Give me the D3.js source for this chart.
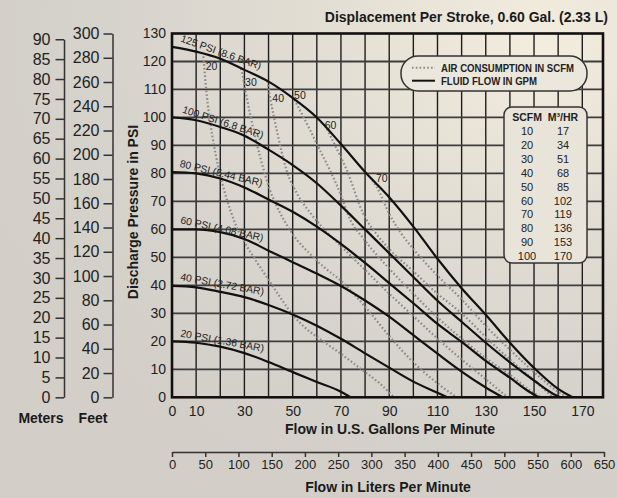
<!DOCTYPE html>
<html>
<head>
<meta charset="utf-8">
<script src="https://cdn.jsdelivr.net/npm/d3@7"></script>
<style>
    body { margin: 0; background: #d8d4cc; }
    svg { display: block; font-family: 'Liberation Sans Narrow', 'Arial Narrow', 'Liberation Sans', Arial, sans-serif; }
</style>
</head>
<body>
<div id="chart"></div>
<script>
// ---- data ----
const gpmTicks = [0, 10, 30, 50, 70, 90, 110, 130, 150, 170];
const psiTicks = d3.range(0, 131, 10);
const lpmTicks = d3.range(0, 651, 50);
const feetTicks = d3.range(0, 301, 20);
const meterTicks = d3.range(0, 91, 5);

// fluid flow curves, [gpm, psi]
const fluidNames = ['125 PSI (8.6 BAR)', '100 PSI (6.8 BAR)', '80 PSI (5.44 BAR)', '60 PSI (4.08 BAR)', '40 PSI (2.72 BAR)', '20 PSI (1.36 BAR)'];
const fluid125 = [[0,125.2],[10,123.5],[20,121],[30,117],[40,112.8],[50,107],[60,100],[70,90.5],[80,80.5],[90,71.5],[100,61],[110,49.5],[120,39],[130,29.5],[140,19.5],[150,10.5],[160,3],[166,0]];
const fluid100 = [[0,100],[10,99],[20,96.6],[30,93.5],[40,88.5],[50,83],[60,76.5],[70,68.5],[80,60],[90,51.5],[100,43],[110,34.5],[120,27],[130,19.5],[140,12.5],[150,6],[158,1.2],[161,0]];
const fluid80 = [[0,80.5],[10,80],[20,78.2],[30,75],[40,70.7],[50,66.3],[60,61],[70,54.8],[80,48],[90,40.8],[100,33.6],[110,26.2],[120,19.8],[130,13],[140,7],[148,2],[152,0]];
const fluid60 = [[0,60],[10,60],[20,59],[30,56.6],[40,52.4],[50,48.3],[60,44.2],[70,39.8],[80,34.6],[90,28.8],[100,22.2],[110,15.6],[120,9.2],[130,3.5],[137,0]];
const fluid40 = [[0,39.8],[10,39.3],[20,37.7],[30,35.8],[40,33],[50,29.6],[60,25.6],[70,20.9],[80,15.7],[90,10.6],[100,5.6],[110,1.6],[114,0]];
const fluid20 = [[0,20],[10,19.5],[20,18.1],[30,15.8],[40,12.6],[50,9],[60,5.5],[70,2],[74,0]];
const fluidCurves = [fluid125, fluid100, fluid80, fluid60, fluid40, fluid20];

// air consumption curves, [gpm, psi]
const airNames = ['20', '30', '40', '50', '60', '70'];
const air20 = [[13,121.8],[14.4,108],[17,92],[21,76],[24.5,66],[28,58.5],[31,54],[35,48.5],[40,42],[45,35.5],[50,29.5],[55,25],[61,21],[70,15.5],[80,9],[86,5],[92,0]];
const air30 = [[28.7,117.5],[32.3,101.4],[36.5,86],[40.6,74],[44.7,66],[48,61],[52,56],[57,51.4],[63,46.5],[69.6,41.9],[80,32.4],[90.3,21.6],[100,12.5],[110,5],[118,0]];
const air40 = [[39.5,113],[40.6,107.4],[43.4,95.5],[47.5,81],[52,72.5],[57.2,66],[62,61],[70,54],[80,45.5],[90,37],[100,29],[110,21],[120,13.5],[130,6.5],[139,0]];
const air50 = [[50,107.5],[57.2,95.5],[61.3,88.3],[65.4,81.2],[70.3,71.6],[73,65.1],[80,56],[90,46],[100,37],[110,28.5],[120,21],[130,14],[140,8],[150,1.5],[153,0]];
const air60 = [[63.5,97],[67,91],[72.4,81.2],[79.2,65.7],[85,58],[90,53],[100,45],[110,37],[120,30],[130,21.5],[140,13.5],[150,6],[158,0]];
const air70 = [[83,77.5],[84.8,75.2],[90.3,65.1],[95,58.5],[100,53],[110,43.5],[120,35],[130,25.5],[140,17],[150,9],[160,2],[164,0]];
const airCurves = [air20, air30, air40, air50, air60, air70];

// conversion table
const scfmValues = [10, 20, 30, 40, 50, 60, 70, 80, 90, 100];
const m3hrValues = [17, 34, 51, 68, 85, 102, 119, 136, 153, 170];

// ---- layout ----
const W = 617, H = 498;
const plot = { left: 172, right: 603, top: 33.5, bottom: 397.3 };
const fluidLabelPos = [[3.3, 127.2, 19.5], [4, 101.8, 18], [3, 82.4, 13.5], [3.3, 62.2, 12.3], [3.3, 41.9, 10.3], [3.3, 21.7, 10.4]];
const airLabelPos = [[16.4, 118.1], [32.7, 112.7], [44, 106.8], [53, 108], [65.7, 97.3], [86.9, 78.2]];

const x = d3.scaleLinear().domain([0, 170]).range([plot.left, 582.3]);
const y = d3.scaleLinear().domain([0, 130]).range([plot.bottom, plot.top]);
const xL = d3.scaleLinear().domain([0, 650]).range([172, 604]);
const yFeet = d3.scaleLinear().domain([0, 300]).range([plot.bottom, plot.top]);
const yMeter = d3.scaleLinear().domain([0, 90]).range([plot.bottom, yFeet(90 * 3.2808)]);

const svg = d3.select('#chart').append('svg')
    .attr('width', W)
    .attr('height', H);

const defs = svg.append('defs');
const bg = defs.append('radialGradient')
    .attr('id', 'bg')
    .attr('cx', '88%').attr('cy', '8%').attr('r', '95%');
bg.append('stop').attr('offset', '0%').attr('stop-color', '#f3eddf');
bg.append('stop').attr('offset', '35%').attr('stop-color', '#e4dfd4');
bg.append('stop').attr('offset', '75%').attr('stop-color', '#d6d2cc');
bg.append('stop').attr('offset', '100%').attr('stop-color', '#d3cfc8');

svg.append('rect').attr('width', W).attr('height', H).attr('fill', 'url(#bg)');

// grid
const grid = svg.append('g');
grid.selectAll('line.v')
    .data(d3.range(10, 180, 10))
    .enter().append('line')
    .attr('class', 'v')
    .attr('x1', d => x(d)).attr('x2', d => x(d))
    .attr('y1', plot.top).attr('y2', plot.bottom)
    .attr('stroke', '#1e1e1e')
    .attr('stroke-width', 1.4);

grid.selectAll('line.h')
    .data(d3.range(10, 130, 10))
    .enter().append('line')
    .attr('class', 'h')
    .attr('x1', plot.left).attr('x2', plot.right)
    .attr('y1', d => y(d)).attr('y2', d => y(d))
    .attr('stroke', '#3c3c3c')
    .attr('stroke-width', 1.8);

// curves
const line = d3.line()
    .x(d => x(d[0]))
    .y(d => y(d[1]))
    .curve(d3.curveMonotoneX);

svg.append('g').selectAll('path')
    .data(airCurves)
    .enter().append('path')
    .attr('d', line)
    .attr('fill', 'none')
    .attr('stroke', '#8a8a8a')
    .attr('stroke-width', 2.2)
    .attr('stroke-dasharray', '1.6 2.2');

svg.append('g').selectAll('path')
    .data(fluidCurves)
    .enter().append('path')
    .attr('d', line)
    .attr('fill', 'none')
    .attr('stroke', '#111')
    .attr('stroke-width', 2.2);

// frame
svg.append('rect')
    .attr('x', plot.left).attr('y', plot.top)
    .attr('width', plot.right - plot.left)
    .attr('height', plot.bottom - plot.top)
    .attr('fill', 'none')
    .attr('stroke', '#111')
    .attr('stroke-width', 2.6);

// curve labels
svg.append('g').selectAll('text')
    .data(fluidNames)
    .enter().append('text')
    .attr('transform', (d, i) => `translate(${x(fluidLabelPos[i][0])},${y(fluidLabelPos[i][1])}) rotate(${fluidLabelPos[i][2]})`)
    .attr('font-size', 10.3)
    .attr('fill', '#222')
    .text(d => d);

svg.append('g').selectAll('text')
    .data(airNames)
    .enter().append('text')
    .attr('x', (d, i) => x(airLabelPos[i][0]))
    .attr('y', (d, i) => y(airLabelPos[i][1]))
    .attr('text-anchor', 'middle')
    .attr('dy', '0.35em')
    .attr('font-size', 10.5)
    .attr('fill', '#222')
    .text(d => d);

// axes
function styleAxis(g, size) {
    g.selectAll('text').attr('font-size', size).attr('fill', '#222').style('font-family', 'inherit');
    g.selectAll('line').attr('stroke', '#333').attr('stroke-width', 1.5);
    g.select('.domain').attr('stroke', '#333').attr('stroke-width', 1.5);
}

svg.append('g')
    .attr('transform', `translate(${plot.left},0)`)
    .call(d3.axisLeft(y).tickValues(psiTicks).tickSize(0).tickPadding(6))
    .call(g => g.select('.domain').remove())
    .call(g => styleAxis(g, 14));

svg.append('g')
    .attr('transform', `translate(0,${plot.bottom})`)
    .call(d3.axisBottom(x).tickValues(gpmTicks).tickSize(0).tickPadding(9))
    .call(g => g.select('.domain').remove())
    .call(g => styleAxis(g, 14));

svg.append('g')
    .attr('transform', 'translate(0,452)')
    .call(d3.axisBottom(xL).tickValues(lpmTicks).tickSize(5).tickSizeOuter(0).tickPadding(3))
    .call(g => styleAxis(g, 13));

svg.append('g')
    .attr('transform', 'translate(112.5,0)')
    .call(d3.axisLeft(yFeet).tickValues(feetTicks).tickSize(9).tickSizeOuter(0).tickPadding(4))
    .call(g => styleAxis(g, 16));

svg.append('g')
    .attr('transform', 'translate(64,0)')
    .call(d3.axisLeft(yMeter).tickValues(meterTicks).tickSize(8.5).tickSizeOuter(0).tickPadding(5))
    .call(g => styleAxis(g, 16));

// titles
const titles = svg.append('g')
    .attr('font-weight', 'bold')
    .attr('font-size', 14)
    .attr('fill', '#1a1a1a');

titles.append('text').attr('x', 608).attr('y', 22).attr('text-anchor', 'end')
    .text('Displacement Per Stroke, 0.60 Gal. (2.33 L)');
titles.append('text').attr('x', 390).attr('y', 433.5).attr('text-anchor', 'middle')
    .text('Flow in U.S. Gallons Per Minute');
titles.append('text').attr('x', 388).attr('y', 491.5).attr('text-anchor', 'middle')
    .text('Flow in Liters Per Minute');
titles.append('text').attr('x', 41).attr('y', 423).attr('text-anchor', 'middle').text('Meters');
titles.append('text').attr('x', 93).attr('y', 423).attr('text-anchor', 'middle').text('Feet');
titles.append('text')
    .attr('transform', 'translate(138,212) rotate(-90)')
    .attr('text-anchor', 'middle')
    .text('Discharge Pressure in PSI');

// legend
const legend = svg.append('g');
legend.append('rect')
    .attr('x', 401).attr('y', 56).attr('width', 186).attr('height', 35).attr('rx', 17)
    .attr('fill', '#ece7dc').attr('stroke', '#333').attr('stroke-width', 1.5);
legend.append('line').attr('x1', 412).attr('x2', 435).attr('y1', 67.7).attr('y2', 67.7)
    .attr('stroke', '#8a8a8a').attr('stroke-width', 2).attr('stroke-dasharray', '1.6 2.2');
legend.append('line').attr('x1', 412).attr('x2', 435).attr('y1', 80.7).attr('y2', 80.7)
    .attr('stroke', '#111').attr('stroke-width', 2);
legend.append('text').attr('x', 441).attr('y', 71.7).attr('font-size', 11).attr('font-weight', 'bold')
    .attr('textLength', 133).attr('lengthAdjust', 'spacingAndGlyphs')
    .attr('fill', '#222').text('AIR CONSUMPTION IN SCFM');
legend.append('text').attr('x', 441).attr('y', 84.7).attr('font-size', 11).attr('font-weight', 'bold')
    .attr('textLength', 96).attr('lengthAdjust', 'spacingAndGlyphs')
    .attr('fill', '#222').text('FLUID FLOW IN GPM');

// conversion table
const table = svg.append('g');
table.append('rect')
    .attr('x', 504).attr('y', 107).attr('width', 83).attr('height', 156).attr('rx', 8)
    .attr('fill', '#e9e4da').attr('stroke', '#333').attr('stroke-width', 1.5);
table.append('text').attr('x', 527).attr('y', 121).attr('text-anchor', 'middle')
    .attr('font-size', 10.5).attr('font-weight', 'bold').attr('fill', '#222').text('SCFM');
table.append('text').attr('x', 563).attr('y', 121).attr('text-anchor', 'middle')
    .attr('font-size', 10.5).attr('font-weight', 'bold').attr('fill', '#222').text('M³/HR');
table.selectAll('text.s')
    .data(scfmValues)
    .enter().append('text')
    .attr('class', 's')
    .attr('x', 527).attr('y', (d, i) => 135 + i * 13.9)
    .attr('text-anchor', 'middle').attr('font-size', 11).attr('fill', '#222')
    .text(d => d);
table.selectAll('text.m')
    .data(m3hrValues)
    .enter().append('text')
    .attr('class', 'm')
    .attr('x', 563).attr('y', (d, i) => 135 + i * 13.9)
    .attr('text-anchor', 'middle').attr('font-size', 11).attr('fill', '#222')
    .text(d => d);
</script>
</body>
</html>
